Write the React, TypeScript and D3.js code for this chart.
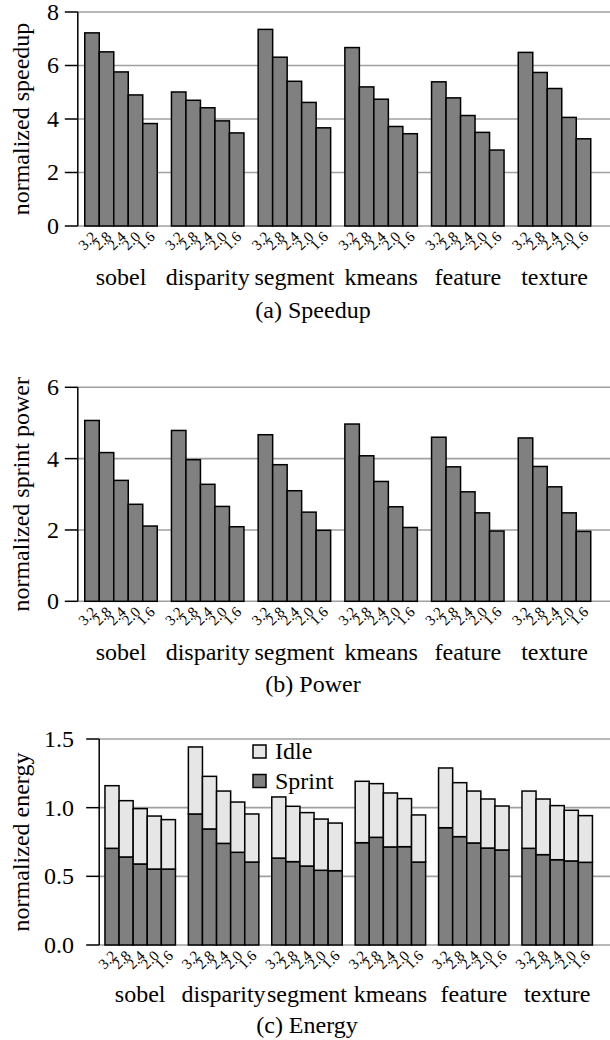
import React from "react";
import * as d3 from "d3";

const categories = ["sobel", "disparity", "segment", "kmeans", "feature", "texture"];
const freqs = ["3.2", "2.8", "2.4", "2.0", "1.6"];

const speedup = [
  [7.22, 6.51, 5.76, 4.9, 3.83],
  [5.01, 4.7, 4.42, 3.93, 3.48],
  [7.35, 6.31, 5.41, 4.62, 3.67],
  [6.67, 5.2, 4.74, 3.72, 3.45],
  [5.39, 4.79, 4.13, 3.5, 2.84],
  [6.49, 5.74, 5.14, 4.06, 3.26],
];

const power = [
  [5.07, 4.17, 3.39, 2.72, 2.11],
  [4.79, 3.97, 3.28, 2.66, 2.09],
  [4.67, 3.83, 3.1, 2.5, 1.99],
  [4.97, 4.08, 3.36, 2.65, 2.07],
  [4.6, 3.77, 3.07, 2.48, 1.97],
  [4.58, 3.78, 3.21, 2.48, 1.96],
];

const sprintEnergy = [
  [0.704, 0.641, 0.59, 0.553, 0.553],
  [0.954, 0.845, 0.74, 0.675, 0.604],
  [0.633, 0.607, 0.575, 0.544, 0.541],
  [0.745, 0.784, 0.714, 0.716, 0.604],
  [0.854, 0.789, 0.743, 0.706, 0.692],
  [0.704, 0.658, 0.621, 0.612, 0.602],
];

const idleEnergy = [
  [0.456, 0.41, 0.403, 0.386, 0.36],
  [0.488, 0.383, 0.381, 0.366, 0.35],
  [0.445, 0.403, 0.389, 0.373, 0.347],
  [0.447, 0.391, 0.393, 0.35, 0.343],
  [0.435, 0.393, 0.378, 0.357, 0.32],
  [0.417, 0.405, 0.394, 0.369, 0.34],
];

const speedupTicks = [0, 2, 4, 6, 8];
const powerTicks = [0, 2, 4, 6];
const energyTicks = [0, 0.5, 1.0, 1.5];
const energyKeys = ["Sprint", "Idle"];

const FONT = '"Liberation Serif", Tinos, "Times New Roman", "DejaVu Serif", serif';
const BAR_FILL = "#808080";
const IDLE_FILL = "#e6e6e6";
const GRID = "#a0a0a0";

type Seg = { y0: number; y1: number; fill: string };

type PanelProps = {
  axisX: number;
  bandStart: number;
  step: number;
  pad: number;
  yTop: number;
  yZero: number;
  max: number;
  ticks: number[];
  fmt: (v: number) => string;
  tickLabelX: number;
  yLabel: string;
  yLabelX: number;
  catY: number;
  caption: string;
  captionX: number;
  captionY: number;
  segs: Seg[][][];
};

const txt = (size: number): React.CSSProperties => ({ fontFamily: FONT, fontSize: size });

function Panel(p: PanelProps) {
  const x0 = d3
    .scaleBand<string>()
    .domain(categories)
    .range([p.bandStart, p.bandStart + p.step * categories.length])
    .paddingInner(p.pad)
    .paddingOuter(p.pad / 2);
  const x1 = d3.scaleBand<string>().domain(freqs).range([0, x0.bandwidth()]).padding(0);
  const y = d3.scaleLinear().domain([0, p.max]).range([p.yZero, p.yTop]);
  const cy = (p.yTop + p.yZero) / 2;
  return (
    <g>
      {p.ticks.map((t) => (
        <g key={t}>
          <line x1={p.axisX} x2={610} y1={y(t)} y2={y(t)} stroke={GRID} strokeWidth={1.6} />
          <line x1={p.axisX - 13} x2={p.axisX} y1={y(t)} y2={y(t)} stroke="#000" strokeWidth={1.5} />
          <text x={p.tickLabelX} y={y(t)} dy="0.33em" textAnchor="end" style={txt(24)}>
            {p.fmt(t)}
          </text>
        </g>
      ))}
      <line x1={p.axisX} x2={p.axisX} y1={p.yTop} y2={p.yZero} stroke="#000" strokeWidth={1.5} />
      <text
        transform={`translate(${p.yLabelX},${cy}) rotate(-90)`}
        textAnchor="middle"
        style={txt(24)}
      >
        {p.yLabel}
      </text>
      {categories.map((c, ci) => (
        <g key={c}>
          {freqs.map((f, fi) => {
            const bx = (x0(c) ?? 0) + (x1(f) ?? 0);
            const bw = x1.bandwidth();
            return (
              <g key={f}>
                {p.segs[ci][fi].map((s, si) => (
                  <rect
                    key={si}
                    x={bx}
                    y={y(s.y1)}
                    width={bw}
                    height={y(s.y0) - y(s.y1)}
                    fill={s.fill}
                    stroke="#000"
                    strokeWidth={1.5}
                  />
                ))}
                <text
                  transform={`translate(${bx + bw / 2 + 2},${p.yZero + 8}) rotate(-45)`}
                  textAnchor="end"
                  dy="0.35em"
                  style={txt(15)}
                >
                  {f}
                </text>
              </g>
            );
          })}
          <text
            x={(x0(c) ?? 0) + x0.bandwidth() / 2}
            y={p.catY}
            textAnchor="middle"
            style={txt(24)}
          >
            {c}
          </text>
        </g>
      ))}
      <text x={p.captionX} y={p.captionY} textAnchor="middle" style={txt(24)}>
        {p.caption}
      </text>
    </g>
  );
}

export default function App() {
  const simple = (vals: number[][]): Seg[][][] =>
    vals.map((row) => row.map((v) => [{ y0: 0, y1: v, fill: BAR_FILL }]));

  const energyRows = categories.flatMap((c, ci) =>
    freqs.map((f, fi) => ({ Sprint: sprintEnergy[ci][fi], Idle: idleEnergy[ci][fi] }))
  );
  const stacked = d3.stack<any>().keys(energyKeys)(energyRows);
  const energySegs: Seg[][][] = categories.map((c, ci) =>
    freqs.map((f, fi) =>
      stacked.map((layer) => {
        const d = layer[ci * freqs.length + fi];
        return { y0: d[0], y1: d[1], fill: layer.key === "Sprint" ? BAR_FILL : IDLE_FILL };
      })
    )
  );

  const fmtInt = d3.format("d");
  const fmt1 = d3.format(".1f");

  return (
    <svg
      width={610}
      height={1040}
      style={{ position: "absolute", left: 0, top: 0, background: "#fff" }}
    >
      <rect width={610} height={1040} fill="#fff" />
      <Panel
        axisX={77.8}
        bandStart={77.65}
        step={86.7}
        pad={0.164}
        yTop={12}
        yZero={226}
        max={8}
        ticks={speedupTicks}
        fmt={fmtInt}
        tickLabelX={59}
        yLabel="normalized speedup"
        yLabelX={29}
        catY={284.5}
        caption="(a) Speedup"
        captionX={313}
        captionY={317.5}
        segs={simple(speedup)}
      />
      <Panel
        axisX={77.8}
        bandStart={77.65}
        step={86.7}
        pad={0.164}
        yTop={387.3}
        yZero={601.3}
        max={6}
        ticks={powerTicks}
        fmt={fmtInt}
        tickLabelX={59}
        yLabel="normalized sprint power"
        yLabelX={29}
        catY={660}
        caption="(b) Power"
        captionX={313}
        captionY={692}
        segs={simple(power)}
      />
      <Panel
        axisX={99.2}
        bandStart={98.5}
        step={83.4}
        pad={0.155}
        yTop={739}
        yZero={945}
        max={1.5}
        ticks={energyTicks}
        fmt={fmt1}
        tickLabelX={74}
        yLabel="normalized energy"
        yLabelX={29}
        catY={1001.5}
        caption="(c) Energy"
        captionX={307}
        captionY={1033}
        segs={energySegs}
      />
      <g>
        {["Idle", "Sprint"].map((k, i) => (
          <g key={k}>
            <rect
              x={253}
              y={745 + i * 29.5}
              width={13}
              height={13}
              fill={k === "Idle" ? IDLE_FILL : BAR_FILL}
              stroke="#000"
              strokeWidth={1.5}
            />
            <text x={275} y={751.5 + i * 29.5} dy="0.33em" style={txt(24)}>
              {k}
            </text>
          </g>
        ))}
      </g>
    </svg>
  );
}
